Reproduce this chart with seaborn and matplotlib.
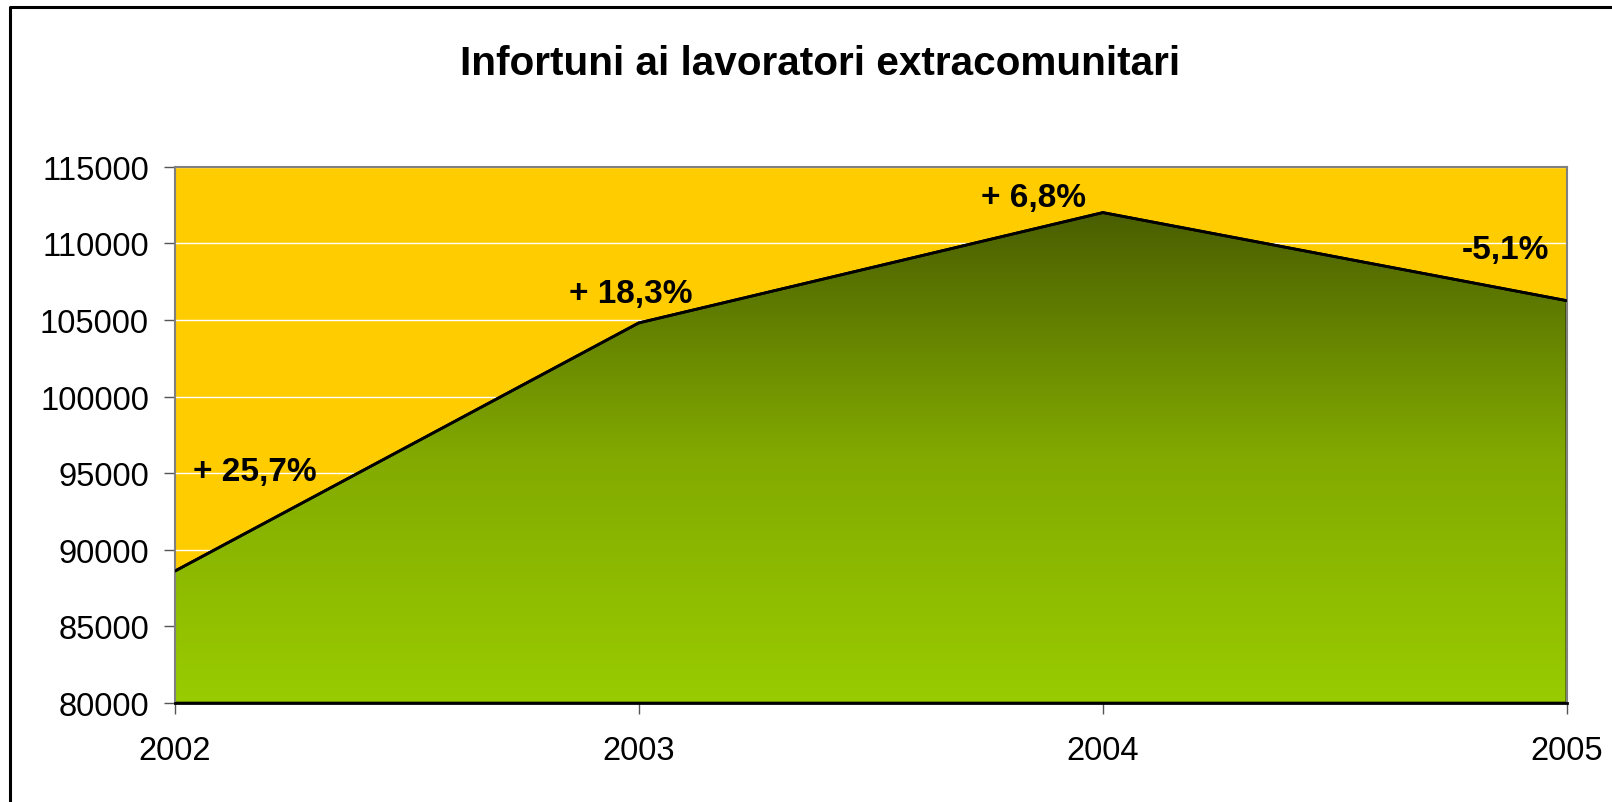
import numpy as np
import seaborn as sns
import matplotlib.pyplot as plt
from matplotlib.patches import Polygon
from matplotlib.lines import Line2D
from matplotlib.colors import LinearSegmentedColormap

years = [2002, 2003, 2004, 2005]
injuries = [88600, 104800, 112000, 106250]
changes = ["+ 25,7%", "+ 18,3%", "+ 6,8%", "-5,1%"]
y_ticks = [80000, 85000, 90000, 95000, 100000, 105000, 110000, 115000]

sns.set_style("white")
plt.rcParams["font.family"] = ["Liberation Sans", "DejaVu Sans"]
plt.rcParams["text.color"] = "black"

fig = plt.figure(figsize=(16.12, 8.03), dpi=100)
ax = fig.add_axes([0.1083, 0.1232, 0.8638, 0.6681])
ax.set_facecolor("#ffcc00")

ymin, ymax = y_ticks[0], y_ticks[-1]
ax.set_xlim(years[0], years[-1])
ax.set_ylim(ymin, ymax)

# white gridlines under everything
ax.set_yticks(y_ticks)
ax.grid(axis="y", color="white", linewidth=1)
ax.grid(axis="x", visible=False)
ax.set_axisbelow(True)

# gradient area clipped to the data polygon
verts = [(years[0], ymin)] + list(zip(years, injuries)) + [(years[-1], ymin)]
poly = Polygon(verts, closed=True, facecolor="none", edgecolor="black",
               linewidth=2, zorder=2)
ax.add_patch(poly)
cmap = LinearSegmentedColormap.from_list("area", ["#99cc00", "#82aa00", "#4a5e00"])
grad = np.linspace(0, 1, 256).reshape(-1, 1)
img = ax.imshow(grad, cmap=cmap, origin="lower", aspect="auto",
                extent=[years[0], years[-1], ymin, max(injuries)], zorder=1.5)
img.set_clip_path(poly)

sns.lineplot(x=years, y=injuries, color="black", linewidth=2, ax=ax, zorder=3)

# percentage labels
offsets = [(58, 72), (-6, 21), (-50, 11), (-44, 37)]
for yr, val, lab, off in zip(years, injuries, changes, offsets):
    ax.annotate(lab, xy=(yr, val), xytext=off, textcoords="offset points",
                ha="center", va="center", fontsize=24, fontweight="bold",
                color="black", zorder=4)

ax.set_xticks(years)
ax.set_xticklabels([str(y) for y in years])
ax.set_yticklabels([str(v) for v in y_ticks])
ax.tick_params(axis="both", direction="out", length=8, width=1, color="#555555",
               labelsize=23.5, labelcolor="black")
ax.tick_params(axis="y", pad=10.5)
ax.tick_params(axis="x", pad=15)
ax.tick_params(left=True, bottom=True)

for side in ["top", "left", "right"]:
    ax.spines[side].set_color("#808080")
    ax.spines[side].set_linewidth(1.5)
ax.spines["bottom"].set_color("black")
ax.spines["bottom"].set_linewidth(2)

fig.text(0.5087, 0.9066, "Infortuni ai lavoratori extracomunitari",
         ha="center", va="baseline", fontsize=29.2, fontweight="bold",
         color="black")

# outer chart frame (only left and top edges visible)
fig.add_artist(Line2D([0.0062, 0.0062, 1.0], [0.0, 0.9897, 0.9897],
                      color="black", linewidth=2.2, transform=fig.transFigure))

fig.savefig("out.png", dpi=100)
